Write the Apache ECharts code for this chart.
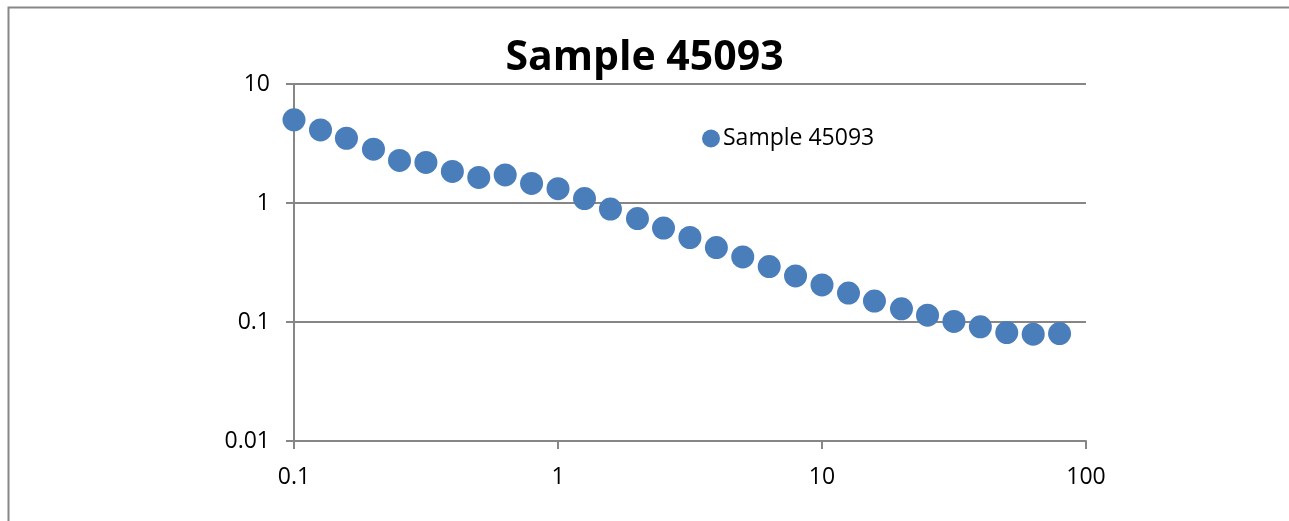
<!DOCTYPE html>
<html>
<head>
<meta charset="utf-8">
<title>Sample 45093</title>
<script src="https://cdn.jsdelivr.net/npm/echarts@6/dist/echarts.min.js"></script>
<style>
  html, body { margin: 0; padding: 0; background: #ffffff; }
  #chart { width: 1289px; height: 521px; }
</style>
</head>
<body>
<div id="chart"></div>
<script>
// Measured decay curve, log-log
const seriesName = 'Sample 45093';
const xValues = [0.1, 0.126, 0.158, 0.2, 0.251, 0.316, 0.398, 0.501, 0.631, 0.794,
                 1, 1.26, 1.58, 2, 2.51, 3.16, 3.98, 5.01, 6.31, 7.94,
                 10, 12.6, 15.8, 20, 25.1, 31.6, 39.8, 50.1, 63.1, 79.4];
const yValues = [5.0, 4.11, 3.5, 2.83, 2.28, 2.19, 1.84, 1.64, 1.72, 1.46,
                 1.32, 1.09, 0.89, 0.74, 0.615, 0.513, 0.422, 0.352, 0.292, 0.244,
                 0.205, 0.175, 0.150, 0.129, 0.114, 0.101, 0.091, 0.0815, 0.079, 0.080];
const xTickLabels = ['0.1', '1', '10', '100'];
const yTickLabels = ['0.01', '0.1', '1', '10'];

const points = xValues.map((x, i) => [x, yValues[i]]);
const FONT = 'Open Sans';
const AXIS_GRAY = '#868686';

function tickText(list) {
  return function (v) {
    const s = String(parseFloat(Number(v).toPrecision(6)));
    return list.indexOf(s) >= 0 ? s : '';
  };
}

const chart = echarts.init(document.getElementById('chart'), null, { renderer: 'canvas' });
chart.setOption({
  backgroundColor: '#ffffff',
  animation: false,
  title: {
    text: seriesName,
    left: 'center',
    top: 33,
    textStyle: { fontFamily: FONT, fontWeight: 'bold', fontSize: 41, color: '#000000' }
  },
  legend: {
    data: [seriesName],
    left: 697,
    top: 122,
    icon: 'circle',
    itemWidth: 18,
    itemHeight: 18,
    itemGap: 4,
    textStyle: { fontFamily: FONT, fontSize: 23, color: '#000000', padding: [0, 0, 0, -2] }
  },
  grid: { left: 294, right: 203, top: 84, bottom: 80, containLabel: false },
  xAxis: {
    type: 'log',
    logBase: 10,
    min: 0.1,
    max: 100,
    axisLine: { show: true, onZero: false, lineStyle: { color: AXIS_GRAY, width: 2 } },
    axisTick: { show: true, inside: false, length: 8, lineStyle: { color: AXIS_GRAY, width: 2 } },
    axisLabel: { fontFamily: FONT, fontSize: 23, color: '#000000', margin: 25, formatter: tickText(xTickLabels) },
    splitLine: { show: false },
    minorTick: { show: false }
  },
  yAxis: {
    type: 'log',
    logBase: 10,
    min: 0.01,
    max: 10,
    axisLine: { show: true, onZero: false, lineStyle: { color: AXIS_GRAY, width: 2 } },
    axisTick: { show: true, inside: false, length: 8, lineStyle: { color: AXIS_GRAY, width: 2 } },
    axisLabel: { fontFamily: FONT, fontSize: 23, color: '#000000', margin: 24, formatter: tickText(yTickLabels) },
    splitLine: { show: true, lineStyle: { color: AXIS_GRAY, width: 2 } }
  },
  series: [{
    name: seriesName,
    type: 'scatter',
    data: points,
    symbol: 'circle',
    symbolSize: 23,
    itemStyle: { color: '#4A7EBB', opacity: 1 },
    clip: false
  }],
  graphic: [{
    type: 'rect',
    left: 6,
    top: 5,
    shape: { x: 0, y: 0, width: 1282, height: 530 },
    style: { fill: 'none', stroke: '#888888', lineWidth: 2 },
    silent: true,
    z: -1
  }]
});
</script>
</body>
</html>
